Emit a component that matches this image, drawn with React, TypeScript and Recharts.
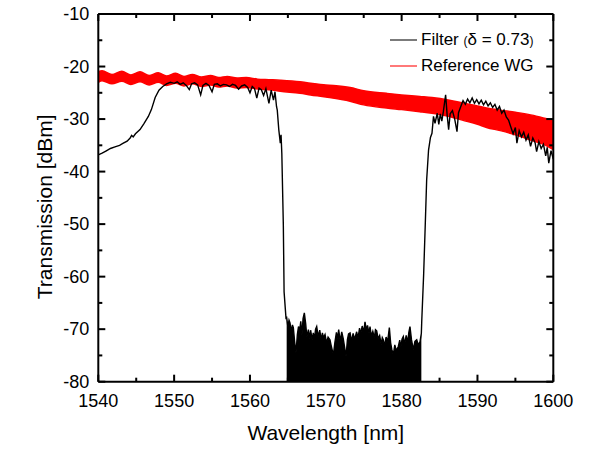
import React from 'react';
import { ComposedChart, Line, Area, XAxis, YAxis, ReferenceLine } from 'recharts';

const FONT = '"Liberation Sans", Arial, Helvetica, sans-serif';
const W = 600;
const H = 449;
const M = { left: 98.3, right: 46.7, top: 14, bottom: 67.3 };
const PLOT_W = W - M.left - M.right;
const PLOT_H = H - M.top - M.bottom;

const X_DOMAIN: [number, number] = [1540, 1600];
const Y_DOMAIN: [number, number] = [-80, -10];
const xTicks = [1540, 1545, 1550, 1555, 1560, 1565, 1570, 1575, 1580, 1585, 1590, 1595, 1600];
const yTicks = [-80, -75, -70, -65, -60, -55, -50, -45, -40, -35, -30, -25, -20, -15, -10];

// Filter (delta = 0.73): rising edge and pass band [wavelength nm, dBm]
const filterPass: [number, number][] = [
  [1540.0, -36.8], [1540.5, -36.5], [1541.0, -36.1], [1541.6, -35.6], [1542.2, -35.3],
  [1542.8, -35.0], [1543.3, -34.6], [1543.8, -34.2], [1544.2, -33.6], [1544.4, -33.1],
  [1544.6, -33.4], [1544.9, -32.8], [1545.5, -32.0], [1546.0, -30.9], [1546.6, -29.5],
  [1547.0, -28.2], [1547.5, -25.9], [1548.0, -24.5], [1548.5, -23.8], [1549.0, -23.3],
  [1549.5, -23.0], [1550.0, -23.2], [1550.4, -22.9], [1550.8, -23.4], [1551.2, -23.1],
  [1551.6, -23.6], [1552.0, -24.4], [1552.3, -23.3], [1552.7, -23.1], [1553.1, -23.5],
  [1553.5, -25.4], [1553.8, -23.6], [1554.2, -23.2], [1554.6, -23.6], [1555.0, -24.8],
  [1555.3, -23.4], [1555.7, -23.3], [1556.1, -23.7], [1556.5, -23.4], [1556.9, -23.5],
  [1557.3, -23.8], [1557.7, -23.4], [1558.1, -23.6], [1558.5, -24.3], [1558.9, -23.7],
  [1559.3, -23.5], [1559.7, -24.0], [1560.0, -25.0], [1560.3, -23.8], [1560.6, -24.2],
  [1560.9, -26.0], [1561.2, -24.1], [1561.5, -24.4], [1561.8, -25.5], [1562.1, -24.2],
  [1562.5, -27.0], [1562.8, -24.5], [1563.1, -26.4], [1563.3, -24.8], [1563.5, -27.6],
  [1563.6, -28.3], [1563.8, -32.0], [1564.0, -34.6], [1564.1, -33.0], [1564.2, -36.5],
  [1564.4, -50.2], [1564.5, -62.9], [1564.75, -67.9],
];

// Filter stop band (noise floor, upper envelope)
const filterStop: [number, number][] = [
  [1564.84, -67.8], [1565.0, -69.5], [1565.15, -68.3], [1565.28, -68.8], [1565.45, -70.5],
  [1565.6, -69.2], [1565.72, -69.7], [1565.9, -72.5], [1566.07, -74.5], [1566.25, -71.0],
  [1566.4, -69.5], [1566.55, -70.3], [1566.7, -68.5], [1566.85, -71.2], [1567.0, -68.0],
  [1567.17, -66.9], [1567.35, -69.0], [1567.5, -71.5], [1567.7, -70.1], [1567.85, -71.8],
  [1568.0, -70.2], [1568.2, -72.0], [1568.35, -70.7], [1568.5, -71.9], [1568.65, -70.0],
  [1568.8, -69.5], [1569.0, -71.4], [1569.2, -70.2], [1569.4, -72.1], [1569.55, -70.7],
  [1569.7, -71.6], [1569.9, -71.0], [1570.1, -72.6], [1570.3, -71.5], [1570.55, -72.0],
  [1570.75, -73.4], [1571.0, -74.9], [1571.2, -72.5], [1571.4, -70.6], [1571.55, -71.8],
  [1571.7, -70.1], [1571.9, -72.3], [1572.1, -70.5], [1572.3, -71.8], [1572.5, -73.6],
  [1572.67, -75.2], [1572.85, -72.0], [1573.0, -70.9], [1573.2, -70.7], [1573.4, -72.3],
  [1573.6, -70.8], [1573.8, -71.9], [1574.07, -70.5], [1574.25, -71.7], [1574.45, -69.8],
  [1574.6, -70.9], [1574.8, -69.4], [1575.0, -70.6], [1575.17, -68.6], [1575.35, -70.2],
  [1575.5, -69.3], [1575.7, -70.8], [1575.83, -69.5], [1576.0, -71.3], [1576.2, -70.4],
  [1576.4, -71.6], [1576.55, -70.1], [1576.71, -70.3], [1576.9, -71.8], [1577.1, -71.2],
  [1577.3, -72.9], [1577.45, -71.6], [1577.58, -72.0], [1577.75, -73.2], [1577.95, -71.5],
  [1578.15, -72.4], [1578.38, -69.7], [1578.55, -72.6], [1578.7, -73.8], [1578.9, -74.9],
  [1579.1, -73.0], [1579.3, -74.1], [1579.56, -73.3], [1579.75, -72.1], [1579.9, -73.4],
  [1580.05, -71.9], [1580.22, -71.4], [1580.4, -72.8], [1580.6, -71.2], [1580.8, -72.5],
  [1580.95, -70.6], [1581.1, -69.5], [1581.3, -72.0], [1581.54, -73.9], [1581.75, -72.3],
  [1581.99, -72.0], [1582.2, -73.0], [1582.42, -72.4], [1582.6, -70.8],
];

// Filter recovery edge and long-wavelength pass band
const filterRecover: [number, number][] = [
  [1582.65, -68.6], [1582.9, -59.7], [1583.1, -50.8], [1583.3, -41.6], [1583.55, -35.9],
  [1583.8, -33.5], [1584.0, -32.7], [1584.2, -29.5], [1584.4, -30.8], [1584.7, -28.9],
  [1584.9, -31.0], [1585.1, -29.0], [1585.3, -30.4], [1585.5, -28.6], [1585.8, -25.4],
  [1586.0, -29.2], [1586.2, -32.0], [1586.4, -29.0], [1586.7, -28.4], [1587.0, -30.0],
  [1587.3, -32.4], [1587.5, -28.8], [1587.8, -27.6], [1588.1, -26.5], [1588.4, -27.2],
  [1588.7, -26.2], [1589.0, -26.9], [1589.3, -26.0], [1589.6, -27.0], [1589.9, -26.3],
  [1590.2, -27.1], [1590.5, -26.4], [1590.8, -27.3], [1591.1, -26.6], [1591.4, -27.5],
  [1591.7, -26.9], [1592.0, -27.8], [1592.3, -27.2], [1592.6, -28.3], [1592.9, -27.6],
  [1593.2, -28.9], [1593.5, -28.3], [1593.8, -29.6], [1594.1, -30.2], [1594.4, -31.5],
  [1594.7, -32.8], [1595.0, -31.6], [1595.2, -34.6], [1595.5, -32.2], [1595.8, -33.4],
  [1596.1, -32.5], [1596.4, -34.0], [1596.7, -33.0], [1597.0, -35.2], [1597.3, -33.6],
  [1597.6, -34.5], [1597.8, -36.2], [1598.1, -34.3], [1598.4, -35.6], [1598.7, -34.8],
  [1599.0, -37.0], [1599.2, -35.4], [1599.4, -38.4], [1599.7, -36.0], [1600.0, -37.6],
];

// Reference WG: noisy trace drawn as band [wavelength, lower dBm, upper dBm]
const refBand: [number, number, number][] = [
  [1540.0, -23.0, -21.0], [1540.5, -22.7, -20.8], [1541.8, -23.3, -21.5], [1543.1, -22.8, -20.9],
  [1544.3, -23.4, -21.6], [1545.5, -22.9, -21.0], [1546.7, -23.5, -21.7], [1547.9, -23.0, -21.2],
  [1549.0, -23.6, -21.8], [1550.2, -23.2, -21.3], [1551.3, -23.7, -21.9], [1552.4, -23.3, -21.5],
  [1553.6, -23.8, -22.0], [1554.8, -23.5, -21.7], [1555.9, -23.9, -22.1], [1557.0, -23.7, -21.9],
  [1558.3, -24.1, -22.2], [1559.5, -24.0, -22.1], [1561.0, -24.3, -22.4], [1562.5, -24.4, -22.5],
  [1564.0, -24.7, -22.6], [1566.6, -25.1, -22.9], [1568.0, -25.4, -23.2], [1570.0, -25.8, -23.5],
  [1573.2, -26.6, -24.0], [1575.0, -27.3, -24.6], [1578.0, -27.9, -25.1], [1580.0, -28.2, -25.4],
  [1582.4, -28.6, -25.7], [1584.0, -28.9, -25.9], [1586.3, -29.5, -26.4], [1588.0, -30.2, -26.9],
  [1590.0, -31.0, -27.5], [1591.2, -31.6, -27.9], [1593.0, -32.2, -28.3], [1595.0, -33.0, -28.7],
  [1597.4, -34.2, -29.3], [1599.0, -35.0, -29.9], [1600.0, -35.8, -30.2],
];

const filterLineData = [...filterPass, ...filterStop, ...filterRecover].map(([wl, v]) => ({ wl, v }));
const filterStopData = filterStop.map(([wl, v]) => ({ wl, v }));
const refData = refBand.map(([wl, lo, hi]) => ({ wl, band: [lo, hi] }));

const AXIS_LINE = { stroke: '#000', strokeWidth: 2 };
const TICK_W = 2;

// bottom axis tick: inward mark at bottom and mirrored mark on top frame; label for major ticks
const renderXTick = (props: any) => {
  const { x, y, payload, index } = props;
  const v = Number(payload.value);
  const major = Math.round(v) % 10 === 0;
  const len = major ? 7 : 4;
  const yb = Number(y);
  const xb = Number(x);
  return (
    <g key={`xt-${index}`}>
      <rect x={xb - TICK_W / 2} y={yb - len} width={TICK_W} height={len} fill="#000" />
      <rect x={xb - TICK_W / 2} y={yb - PLOT_H} width={TICK_W} height={len} fill="#000" />
      {major ? (
        <text x={xb} y={yb + 25} textAnchor="middle" fontSize={18} fontFamily={FONT} fill="#000">
          {v}
        </text>
      ) : null}
    </g>
  );
};

// left axis tick: inward mark at left and mirrored mark on right frame; label for major ticks
const renderYTick = (props: any) => {
  const { x, y, payload, index } = props;
  const v = Number(payload.value);
  const major = Math.round(v) % 10 === 0;
  const len = major ? 7 : 4;
  const yb = Number(y);
  const xb = Number(x);
  return (
    <g key={`yt-${index}`}>
      <rect x={xb} y={yb - TICK_W / 2} width={len} height={TICK_W} fill="#000" />
      <rect x={xb + PLOT_W - len} y={yb - TICK_W / 2} width={len} height={TICK_W} fill="#000" />
      {major ? (
        <text x={xb - 9} y={yb + 6} textAnchor="end" fontSize={18} fontFamily={FONT} fill="#000">
          {v}
        </text>
      ) : null}
    </g>
  );
};

const XTitle = (props: any) => {
  const vb = props.viewBox;
  return (
    <text x={vb.x + vb.width / 2} y={vb.y + vb.height - 9} textAnchor="middle" fontSize={21} fontFamily={FONT} fill="#000">
      Wavelength [nm]
    </text>
  );
};

const YTitle = (props: any) => {
  const vb = props.viewBox;
  const cx = vb.x + vb.width - 45.8;
  const cy = vb.y + vb.height / 2 + 9;
  return (
    <text x={cx} y={cy} transform={`rotate(-90 ${cx} ${cy})`} textAnchor="middle" fontSize={21} fontFamily={FONT} fill="#000">
      Transmission [dBm]
    </text>
  );
};

export default function App() {
  return (
    <div style={{ position: 'absolute', left: 0, top: 0, width: W, height: H, background: '#fff' }}>
      <ComposedChart width={W} height={H} margin={{ top: M.top, right: M.right, bottom: 0, left: 0 }}>
        <XAxis
          dataKey="wl"
          type="number"
          domain={X_DOMAIN}
          ticks={xTicks}
          interval={0}
          allowDataOverflow
          height={M.bottom}
          tickSize={0}
          tickMargin={0}
          tickLine={false}
          axisLine={AXIS_LINE}
          tick={renderXTick}
          label={<XTitle />}
        />
        <YAxis
          type="number"
          domain={Y_DOMAIN}
          ticks={yTicks}
          interval={0}
          allowDataOverflow
          width={M.left}
          tickSize={0}
          tickMargin={0}
          tickLine={false}
          axisLine={AXIS_LINE}
          tick={renderYTick}
          label={<YTitle />}
        />

        <Area
          data={filterStopData}
          dataKey="v"
          type="linear"
          baseValue={-80}
          fill="#000"
          fillOpacity={1}
          stroke="none"
          isAnimationActive={false}
        />
        <Line
          data={filterLineData}
          dataKey="v"
          type="linear"
          stroke="#000"
          strokeWidth={1.4}
          dot={false}
          isAnimationActive={false}
        />
        <Area
          data={refData}
          dataKey="band"
          type="monotone"
          fill="#ff0000"
          fillOpacity={1}
          stroke="#ff0000"
          strokeWidth={1.5}
          isAnimationActive={false}
        />
        <ReferenceLine y={-10} stroke="#000" strokeWidth={2} />
        <ReferenceLine x={1600} stroke="#000" strokeWidth={2} />
      </ComposedChart>
      <svg width={W} height={H} style={{ position: 'absolute', left: 0, top: 0, pointerEvents: 'none' }}>
        <line x1={390} x2={417} y1={40} y2={40} stroke="#333" strokeWidth={1.3} />
        <text x={421} y={44.5} fontSize={17} fontFamily={FONT} fill="#000">
          Filter <tspan fontSize={12}>(</tspan>δ = 0.73<tspan fontSize={12}>)</tspan>
        </text>
        <line x1={390} x2={417} y1={66} y2={66} stroke="#ff3030" strokeWidth={1.3} />
        <text x={421} y={70.5} fontSize={17} fontFamily={FONT} fill="#000">
          Reference WG
        </text>
      </svg>
    </div>
  );
}
